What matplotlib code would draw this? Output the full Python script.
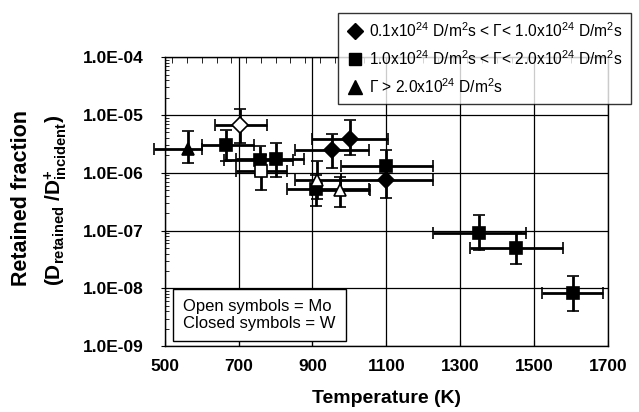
import numpy as np
import matplotlib.pyplot as plt
from matplotlib.lines import Line2D
from matplotlib.ticker import MultipleLocator, LogLocator, FixedLocator

plt.rcParams['font.family'] = ['Liberation Sans', 'DejaVu Sans']
plt.rcParams['mathtext.fontset'] = 'custom'
plt.rcParams['mathtext.rm'] = 'Liberation Sans'
plt.rcParams['mathtext.it'] = 'Liberation Sans'
plt.rcParams['mathtext.bf'] = 'Liberation Sans:bold'

# low flux (diamonds), closed = W
dia_T = [953, 1002, 1100]
dia_y = [2.45e-6, 3.9e-6, 7.6e-7]
dia_T_lo = [852, 900, 977]
dia_T_hi = [1053, 1105, 1227]
dia_y_lo = [1.2e-6, 2.0e-6, 3.7e-7]
dia_y_hi = [4.7e-6, 8.1e-6, 1.3e-6]

# low flux, open = Mo
dia_mo_T = [703]
dia_mo_y = [6.6e-6]
dia_mo_T_lo = [635]
dia_mo_T_hi = [776]
dia_mo_y_lo = [3.3e-6]
dia_mo_y_hi = [1.25e-5]

# medium flux (squares), closed = W
sq_T = [667, 757, 800, 909, 1100, 1352, 1451, 1605]
sq_y = [3.0e-6, 1.65e-6, 1.7e-6, 5.2e-7, 1.33e-6, 9.1e-8, 5.0e-8, 8.2e-9]
sq_T_lo = [601, 659, 692, 831, 977, 1227, 1326, 1523]
sq_T_hi = [741, 846, 877, 1054, 1227, 1479, 1578, 1687]
sq_y_lo = [1.6e-6, 9e-7, 8.5e-7, 2.7e-7, 7e-7, 4.6e-8, 2.6e-8, 4.0e-9]
sq_y_hi = [5.5e-6, 2.9e-6, 3.3e-6, 9e-7, 2.5e-6, 1.85e-7, 9.5e-8, 1.64e-8]

# medium flux, open = Mo
sq_mo_T = [760]
sq_mo_y = [1.07e-6]
sq_mo_T_lo = [692]
sq_mo_T_hi = [832]
sq_mo_y_lo = [5.1e-7]
sq_mo_y_hi = [2.0e-6]

# high flux (triangles), closed = W
tri_T = [563]
tri_y = [2.6e-6]
tri_T_lo = [471]
tri_T_hi = [601]
tri_y_lo = [1.45e-6]
tri_y_hi = [5.2e-6]

# high flux, open = Mo
tri_mo_T = [911, 975]
tri_mo_y = [7.6e-7, 5.0e-7]
tri_mo_T_lo = [852, 900]
tri_mo_T_hi = [977, 1057]
tri_mo_y_lo = [3.5e-7, 2.6e-7]
tri_mo_y_hi = [1.6e-6, 8.5e-7]

legend_labels = [
    '0.1x10$^{24}$ D/m$^{2}$s < \u0393< 1.0x10$^{24}$ D/m$^{2}$s',
    '1.0x10$^{24}$ D/m$^{2}$s < \u0393< 2.0x10$^{24}$ D/m$^{2}$s',
    '\u0393 > 2.0x10$^{24}$ D/m$^{2}$s',
]
y_ticks = [1e-9, 1e-8, 1e-7, 1e-6, 1e-5, 1e-4]
y_ticklabels = ['1.0E-09', '1.0E-08', '1.0E-07', '1.0E-06', '1.0E-05', '1.0E-04']
x_ticks = [500, 700, 900, 1100, 1300, 1500, 1700]


def plot_set(ax, T, y, T_lo, T_hi, y_lo, y_hi, marker, ms, face):
    T = np.array(T, dtype=float)
    y = np.array(y, dtype=float)
    xerr = [T - np.array(T_lo), np.array(T_hi) - T]
    yerr = [y - np.array(y_lo), np.array(y_hi) - y]
    parts = ax.errorbar(T, y, xerr=xerr, yerr=yerr, fmt=marker, ms=ms,
                        mfc=face, mec='black', mew=1.2, ecolor='black',
                        elinewidth=2, capsize=4, capthick=2, zorder=3)
    for art in parts.lines[1] + parts.lines[2]:
        art.set_clip_on(False)
    parts.lines[0].set_clip_on(False)


fig = plt.figure(figsize=(6.39, 4.12), dpi=100)
ax = fig.add_axes([0.258, 0.160, 0.693, 0.701])

plot_set(ax, sq_T, sq_y, sq_T_lo, sq_T_hi, sq_y_lo, sq_y_hi, 's', 8, 'black')
plot_set(ax, dia_T, dia_y, dia_T_lo, dia_T_hi, dia_y_lo, dia_y_hi, 'D', 8, 'black')
plot_set(ax, tri_T, tri_y, tri_T_lo, tri_T_hi, tri_y_lo, tri_y_hi, '^', 9, 'black')
plot_set(ax, sq_mo_T, sq_mo_y, sq_mo_T_lo, sq_mo_T_hi, sq_mo_y_lo, sq_mo_y_hi, 's', 8, 'white')
plot_set(ax, dia_mo_T, dia_mo_y, dia_mo_T_lo, dia_mo_T_hi, dia_mo_y_lo, dia_mo_y_hi, 'D', 8, 'white')
plot_set(ax, tri_mo_T, tri_mo_y, tri_mo_T_lo, tri_mo_T_hi, tri_mo_y_lo, tri_mo_y_hi, '^', 9, 'white')

ax.set_yscale('log')
ax.set_xlim(500, 1700)
ax.set_ylim(1e-9, 1e-4)
ax.xaxis.set_major_locator(FixedLocator(x_ticks))
ax.xaxis.set_minor_locator(MultipleLocator(40))
ax.set_xticklabels([str(t) for t in x_ticks], fontsize=12.5, fontweight='bold')
ax.yaxis.set_major_locator(FixedLocator(y_ticks))
ax.yaxis.set_minor_locator(LogLocator(base=10, subs=np.arange(2, 10)))
ax.set_yticklabels(y_ticklabels, fontsize=12.5, fontweight='bold')
ax.yaxis.set_minor_formatter(plt.NullFormatter())

ax.tick_params(axis='x', which='major', direction='in', length=4, top=False, pad=9)
ax.tick_params(axis='x', which='minor', direction='in', length=4, bottom=False, top=True)
ax.tick_params(axis='y', which='major', direction='out', length=3, pad=12)
ax.tick_params(axis='y', which='minor', direction='in', length=3, right=False)

ax.grid(True, which='major', color='black', lw=0.9)
for s in ax.spines.values():
    s.set_linewidth(1.0)

ax.set_xlabel('Temperature (K)', fontsize=14, fontweight='bold', labelpad=12)
fig.text(0.033, 0.52, 'Retained fraction', rotation=90, ha='center', va='center',
         fontsize=15.5, fontweight='bold')
fig.text(0.087, 0.513, '(D$_{\\mathbf{retained}}$ /D$^{\\mathbf{+}}_{\\mathbf{incident}}$)',
         rotation=90, ha='center', va='center', fontsize=15, fontweight='bold')

ax.text(0.042, 0.052, 'Open symbols = Mo\nClosed symbols = W', transform=ax.transAxes,
        fontsize=12, ha='left', va='bottom', linespacing=1.2,
        bbox=dict(boxstyle='square,pad=0.6', fc='white', ec='black', lw=1.0), zorder=5)

handles = [Line2D([], [], ls='none', marker=m, ms=s, mfc='black', mec='black')
           for m, s in [('D', 8.5), ('s', 8), ('^', 10)]]
leg = fig.legend(handles, legend_labels, loc='upper left', bbox_to_anchor=(0.529, 0.968),
                 fontsize=11.2, frameon=True, fancybox=False, edgecolor='black',
                 handlelength=1.2, handletextpad=0.3, borderpad=0.5, labelspacing=0.6,
                 borderaxespad=0)
leg.get_frame().set_linewidth(1.0)

fig.savefig('out.png', dpi=100)
